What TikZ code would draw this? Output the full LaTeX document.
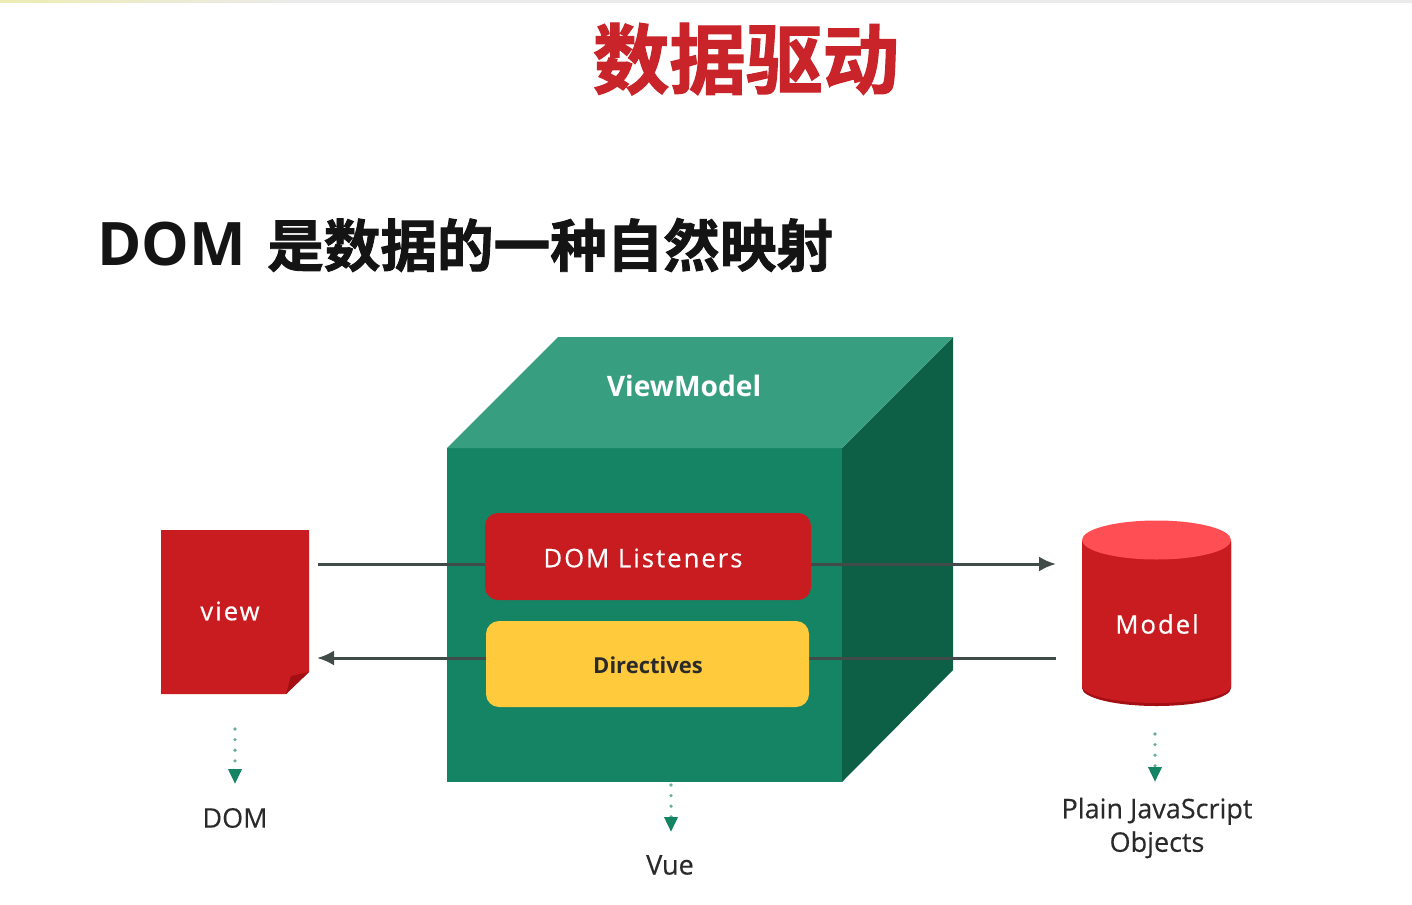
\documentclass[tikz,border=0pt]{standalone}
\usepackage{fontspec}
\usetikzlibrary{arrows.meta,shapes.geometric}
\setmainfont{Open Sans}
\newfontfamily\cjk[BoldFont={Noto Sans CJK SC Bold},BoldFeatures={FakeBold=1.5}]{Noto Sans CJK SC}
\newfontfamily\latinb[LetterSpace=8,FakeBold=0.5]{Open Sans}
\newfontfamily\capfont[FakeBold=0.3]{Open Sans}
\definecolor{vuered}{HTML}{C91C20}
\definecolor{vuelight}{HTML}{FF4F55}
\definecolor{vuedark}{HTML}{A30F13}
\definecolor{frontg}{HTML}{158465}
\definecolor{sideg}{HTML}{0D6045}
\definecolor{topg}{HTML}{389E80}
\definecolor{vueyellow}{HTML}{FFCB3D}
\definecolor{titlered}{HTML}{C8242A}
\definecolor{ink}{HTML}{2A2A2A}
\definecolor{wirecol}{HTML}{414B47}
\tikzset{
  x=1pt,y=-1pt,
  wiretip/.style={-{Latex[length=17pt,width=15pt]}},
  wire/.style={draw=wirecol,line width=3pt},
  dotlink/.style={draw=frontg!65,line width=3.6pt,line cap=round,dash pattern=on 0pt off 10.6pt,
     -{Triangle[length=15pt,width=13pt,color=frontg,fill=frontg]}},
  boxlabel/.style={text=white,font=\latinb\fontsize{25.6}{28}\selectfont,inner sep=0pt},
  caption/.style={text=ink,font=\capfont\fontsize{27}{34}\selectfont,inner sep=0pt,align=center},
}
\begin{document}
\begin{tikzpicture}
\useasboundingbox (0,0) rectangle (1412,904);
\fill[white] (0,0) rectangle (1412,904);
\shade[left color=black!25!yellow!30!white,right color=black!8] (0,0) rectangle (300,3);
\fill[black!8] (300,0) rectangle (1412,3);
% titles
\node[inner sep=0pt,text=titlered,font=\cjk\bfseries\fontsize{76.6}{76.6}\selectfont] (title) at (746,59) {数据驱动};
\node[inner sep=0pt,text=black!92,font=\fontsize{60}{60}\selectfont\bfseries,anchor=west] (dom) at (97,244) {DOM};
\node[inner sep=0pt,text=black!92,font=\cjk\bfseries\fontsize{56.6}{56.6}\selectfont,anchor=west] (sub) at (267,245) {是数据的一种自然映射};
% cube
\fill[frontg] (447,448) rectangle (842,782);
\fill[sideg] (842,448) -- (953,337) -- (953,670) -- (842,782) -- cycle;
\fill[topg] (447,448) -- (558,337) -- (953,337) -- (842,448) -- cycle;
\node[boxlabel,font=\bfseries\fontsize{28.2}{30}\selectfont] (vm) at (684,386) {ViewModel};
% view page
\fill[vuered] (161,530) -- (309,530) -- (309,672) -- (286,694) -- (161,694) -- cycle;
\fill[vuedark] (309,672) -- (291,676) -- (286,694) -- cycle;
\node[boxlabel] (view) at (230,611) {view};
\coordinate (viewout) at (318,564);
\coordinate (viewin) at (317,658);
% model cylinder
\fill[vuedark] (1082,542) -- (1082,688) arc[start angle=180,end angle=360,x radius=74.5pt,y radius=18pt] -- (1231,542) -- cycle;
\fill[vuered] (1082,541) -- (1082,686) arc[start angle=180,end angle=360,x radius=74.5pt,y radius=17pt] -- (1231,541) -- cycle;
\fill[vuelight] (1156.5,540) ellipse[x radius=74.5pt,y radius=19.5pt];
\node[boxlabel] (model) at (1157,624) {Model};
\coordinate (modelin) at (1056,564);
\coordinate (modelout) at (1056,658);
% connectors
\draw[wire,wiretip] (viewout) -- (modelin);
\draw[wire,wiretip] (modelout) -- (viewin);
% inner boxes
\path[fill=vuered,rounded corners=13pt] (485,513) rectangle (811,600);
\node[boxlabel] (listeners) at (643,558) {DOM Listeners};
\path[fill=vueyellow,rounded corners=13pt] (486,621) rectangle (809,707);
\node[inner sep=0pt,text=ink,font=\bfseries\fontsize{22}{26}\selectfont] (directives) at (648,665) {Directives};
% captions
\node[caption] (domcap) at (235,818) {DOM};
\node[caption] (vuecap) at (670,865) {Vue};
\node[caption] (jscap) at (1157,828) {Plain JavaScript\\[-0.5pt]Objects};
\coordinate (a1) at (235,729);
\coordinate (a2) at (235,784);
\coordinate (b1) at (671,785);
\coordinate (b2) at (671,832);
\coordinate (c1) at (1155,734);
\coordinate (c2) at (1155,782);
\draw[dotlink] (a1) -- (a2);
\draw[dotlink] (b1) -- (b2);
\draw[dotlink] (c1) -- (c2);
\end{tikzpicture}
\end{document}
